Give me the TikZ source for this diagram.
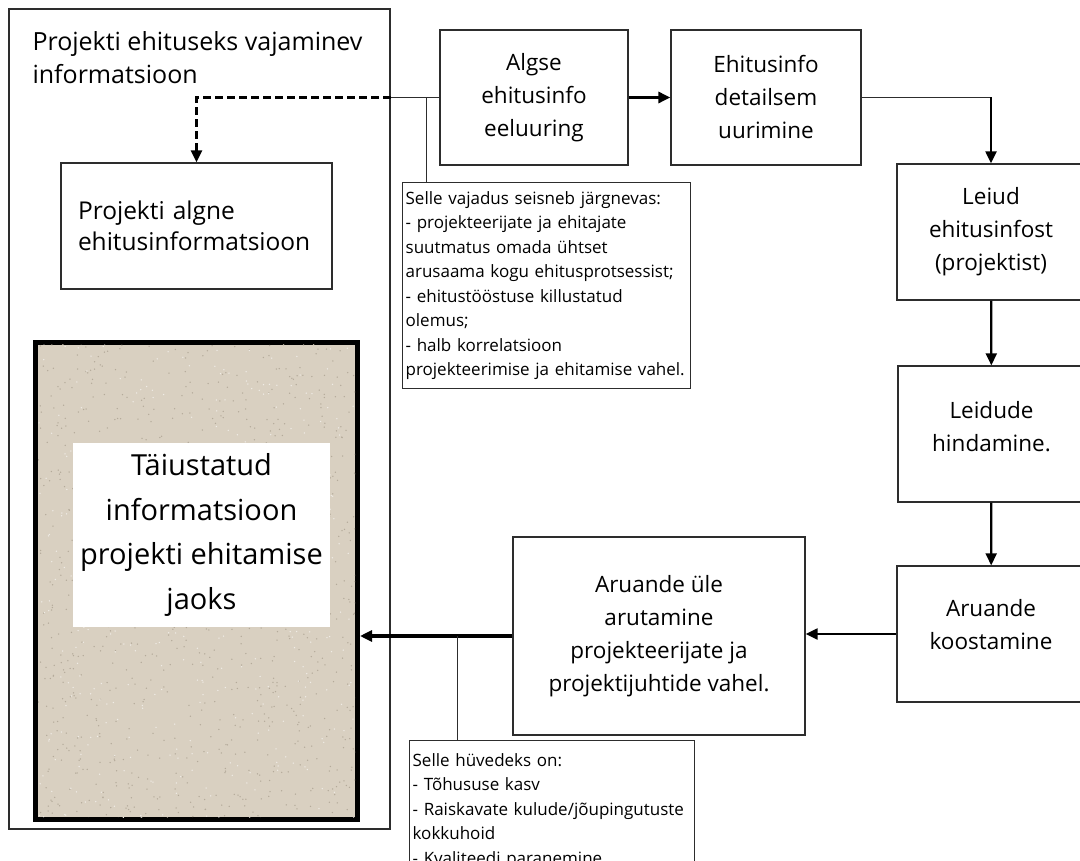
\documentclass[tikz,border=0pt]{standalone}
\usepackage{fontspec}
\setmainfont{Open Sans}
\usetikzlibrary{arrows.meta}
\definecolor{paper}{RGB}{217,208,193}
\definecolor{speck}{RGB}{180,170,154}
\definecolor{edge}{RGB}{45,45,45}
\tikzset{
  >={Triangle[length=12pt,width=11pt]},
  box/.style={draw=edge, line width=1.3pt, align=center, font=\fontsize{22.5}{33}\selectfont},
  note/.style={draw=edge, line width=1.3pt, align=left, anchor=north west, inner xsep=3pt, font=\fontsize{17}{24.5}\selectfont},
  link/.style={edge, line width=1.3pt},
  flow/.style={->, line width=2.2pt},
}

\begin{document}
\begin{tikzpicture}[x=1pt, y=-1pt]
  \useasboundingbox (0, 0) rectangle (1080, 861);
  \clip (0, 0) rectangle (1080, 861);
  \fill[white] (0, 0) rectangle (1080, 861);

  % left column
  \node[draw=edge, line width=1.3pt, minimum width=381pt, minimum height=820pt] (info) at (199.5, 419) {};
  \node[anchor=north west, align=left, font=\fontsize{25}{33}\selectfont] (title) at (29, 28) {Projekti ehituseks vajaminev\\informatsioon};
  \node[box, align=left, text width=237pt, inner xsep=17pt, minimum height=126pt, font=\fontsize{24.5}{31}\selectfont] (algne) at (196.5, 226) {Projekti algne\\ehitusinformatsioon};

  \node[draw=black, line width=5pt, fill=paper, minimum width=322pt, minimum height=477pt] (result) at (196.5, 581) {};
  \begin{scope}
    \clip ([xshift=5pt, yshift=-5pt]result.north west) rectangle ([xshift=-5pt, yshift=5pt]result.south east);
    \pgfmathsetseed{42}
    \foreach \i in {1,...,900}
      \fill[speck] ({36+rnd*324}, {343+rnd*478}) circle (0.75pt);
    \foreach \i in {1,...,400}
      \fill[paper!40!white] ({36+rnd*324}, {343+rnd*478}) circle (0.75pt);
  \end{scope}
  \node[fill=white, minimum width=257pt, minimum height=184pt, align=center, font=\fontsize{29}{44.7}\selectfont] (resulttext) at (201.5, 535) {Täiustatud\\informatsioon\\projekti ehitamise\\jaoks};

  % upper row
  \node[box, minimum width=188pt, minimum height=135pt] (algse) at (534, 97.5) {Algse\\ehitusinfo\\eeluuring};
  \node[box, minimum width=190pt, minimum height=135pt] (detail) at (766, 97.5) {Ehitusinfo\\detailsem\\uurimine};
  \node[note, text width=282pt, minimum height=206pt] (vajadus) at (402, 182) {Selle vajadus seisneb järgnevas:\\- projekteerijate ja ehitajate\\suutmatus omada ühtset\\arusaama kogu ehitusprotsessist;\\- ehitustööstuse killustatud\\olemus;\\- halb korrelatsioon\\projekteerimise ja ehitamise vahel.};

  % right column
  \node[box, minimum width=188pt, minimum height=136pt] (leiud) at (991, 232) {Leiud\\ehitusinfost\\(projektist)};
  \node[box, minimum width=187pt, minimum height=136pt, text depth=16pt] (hind) at (991.5, 434) {Leidude\\hindamine.};
  \node[box, minimum width=188pt, minimum height=136pt, text depth=20pt] (koost) at (991, 634) {Aruande\\koostamine};

  % lower row
  \node[box, minimum width=292pt, minimum height=198pt] (arut) at (659, 636) {Aruande üle\\arutamine\\projekteerijate ja\\projektijuhtide vahel.};
  \node[note, text width=279pt, minimum height=140pt] (huved) at (409, 740) {Selle hüvedeks on:\\- Tõhususe kasv\\- Raiskavate kulude/jõupingutuste\\kokkuhoid\\- Kvaliteedi paranemine};

  % connectors
  \coordinate (split) at (algse.west -| info.east);
  \coordinate (tap1) at ([xshift=-13pt]algse.west);
  \coordinate (bend) at (detail.east -| leiud.north);
  \coordinate (tap2) at ([xshift=-55pt]arut.west);
  \draw[link] (algse.west) -- (split);
  \draw[flow, line width=2.5pt, dash pattern=on 8pt off 4pt] (split) -| (algne.north);
  \draw[link] (tap1) -- (tap1 |- vajadus.north);
  \draw[flow, line width=3pt] (algse) -- (detail);
  \draw[link] (detail.east) -- (bend);
  \draw[flow] (bend) -- (leiud.north);
  \draw[flow] (leiud) -- (hind);
  \draw[flow] (hind) -- (koost);
  \draw[flow] (koost.west) -- (koost.west -| arut.east);
  \draw[flow, line width=3.5pt] (arut.west) -- (arut.west -| result.east);
  \draw[link] (tap2) -- (tap2 |- huved.north);
\end{tikzpicture}
\end{document}
